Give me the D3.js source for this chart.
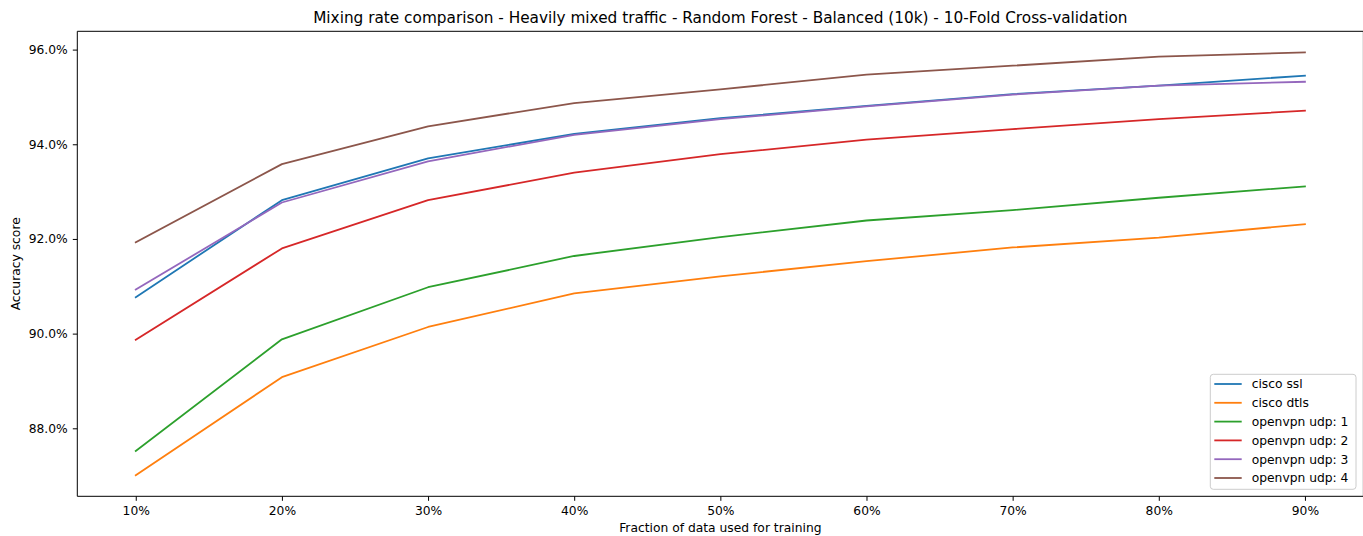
<!DOCTYPE html>
<html>
<head>
<meta charset="utf-8">
<script src="https://cdn.jsdelivr.net/npm/d3@7"></script>
<style>
  html, body { margin: 0; padding: 0; background: #fff; }
  svg { display: block; font-family: "DejaVu Sans", sans-serif; }
</style>
</head>
<body>
<script>
// Données (précision en %)
const fractions = [10, 20, 30, 40, 50, 60, 70, 80, 90];
const seriesNames = ["cisco ssl", "cisco dtls", "openvpn udp: 1", "openvpn udp: 2", "openvpn udp: 3", "openvpn udp: 4"];
const ciscoSsl   = [90.77, 92.82, 93.70, 94.22, 94.55, 94.81, 95.06, 95.24, 95.45];
const ciscoDtls  = [87.01, 89.08, 90.14, 90.85, 91.21, 91.53, 91.82, 92.03, 92.31];
const openvpn1   = [87.52, 89.88, 90.98, 91.64, 92.04, 92.39, 92.61, 92.87, 93.11];
const openvpn2   = [89.87, 91.80, 92.82, 93.40, 93.79, 94.10, 94.32, 94.53, 94.71];
const openvpn3   = [90.93, 92.77, 93.64, 94.20, 94.53, 94.80, 95.05, 95.24, 95.32];
const openvpn4   = [91.93, 93.58, 94.38, 94.87, 95.16, 95.47, 95.66, 95.85, 95.94];
const colors = ["#1f77b4", "#ff7f0e", "#2ca02c", "#d62728", "#9467bd", "#8c564b"];
const yTicks = [88, 90, 92, 94, 96];

const allSeries = [ciscoSsl, ciscoDtls, openvpn1, openvpn2, openvpn3, openvpn4];

const width = 1363;
const height = 536;
const margin = { left: 77.3, right: width - 1363.4, top: 31.3, bottom: height - 496.3 };

const svg = d3.select("body").append("svg")
    .attr("width", width)
    .attr("height", height);

// Échelles (marges de 5 % comme matplotlib)
const allValues = allSeries.flat();
const yMin = d3.min(allValues), yMax = d3.max(allValues);
const yPad = (yMax - yMin) * 0.05;
const x = d3.scaleLinear()
    .domain([6, 94])
    .range([margin.left, width - margin.right]);
const y = d3.scaleLinear()
    .domain([yMin - yPad, yMax + yPad])
    .range([height - margin.bottom, margin.top]);

// Axes
const xAxis = svg.append("g")
    .attr("transform", `translate(0,${height - margin.bottom})`)
    .call(d3.axisBottom(x).tickValues(fractions).tickFormat(d => d + "%").tickSize(4.5).tickPadding(5));
const yAxis = svg.append("g")
    .attr("transform", `translate(${margin.left},0)`)
    .call(d3.axisLeft(y).tickValues(yTicks).tickFormat(d => d.toFixed(1) + "%").tickSize(4.5).tickPadding(5));

[xAxis, yAxis].forEach(g => {
    g.select(".domain").remove();
    g.selectAll("text").attr("font-size", 12.3).attr("fill", "#000").attr("font-family", "DejaVu Sans");
    g.selectAll("line").attr("stroke", "#000").attr("stroke-width", 1);
});

// Lignes
const line = d3.line()
    .x((d, i) => x(fractions[i]))
    .y(d => y(d));

svg.append("g")
    .selectAll("path")
    .data(allSeries)
    .enter().append("path")
    .attr("d", d => line(d))
    .attr("fill", "none")
    .attr("stroke", (d, i) => colors[i])
    .attr("stroke-width", 1.8)
    .attr("stroke-linejoin", "round")
    .attr("stroke-linecap", "square");

// Cadre (haut, gauche, bas, droite)
const x0 = margin.left, x1 = width - margin.right, y0 = margin.top, y1 = height - margin.bottom;
svg.append("path")
    .attr("d", `M${x0},${y1}V${y0}H${x1}V${y1}Z`)
    .attr("fill", "none")
    .attr("stroke", "#000")
    .attr("stroke-width", 1);

// Titre et libellés
svg.append("text")
    .attr("x", (x0 + x1) / 2)
    .attr("y", 23)
    .attr("text-anchor", "middle")
    .attr("font-size", 15.3)
    .text("Mixing rate comparison - Heavily mixed traffic - Random Forest - Balanced (10k) - 10-Fold Cross-validation");

svg.append("text")
    .attr("x", (x0 + x1) / 2)
    .attr("y", 532)
    .attr("text-anchor", "middle")
    .attr("font-size", 12.3)
    .text("Fraction of data used for training");

svg.append("text")
    .attr("transform", `translate(20,${(y0 + y1) / 2}) rotate(-90)`)
    .attr("text-anchor", "middle")
    .attr("font-size", 12.3)
    .text("Accuracy score");

// Légende
const legend = svg.append("g").attr("transform", "translate(1210.3,374.3)");
legend.append("rect")
    .attr("width", 145.7)
    .attr("height", 115)
    .attr("rx", 3)
    .attr("fill", "#fff")
    .attr("fill-opacity", 0.8)
    .attr("stroke", "#ccc")
    .attr("stroke-width", 1);

const items = legend.selectAll("g.item")
    .data(seriesNames)
    .enter().append("g")
    .attr("class", "item")
    .attr("transform", (d, i) => `translate(0,${9.7 + i * 18.8})`);
items.append("line")
    .attr("x1", 4).attr("x2", 31.4)
    .attr("stroke", (d, i) => colors[i])
    .attr("stroke-width", 1.8);
items.append("text")
    .attr("x", 41.4)
    .attr("dy", "0.35em")
    .attr("font-size", 12.3)
    .text(d => d);
</script>
</body>
</html>
